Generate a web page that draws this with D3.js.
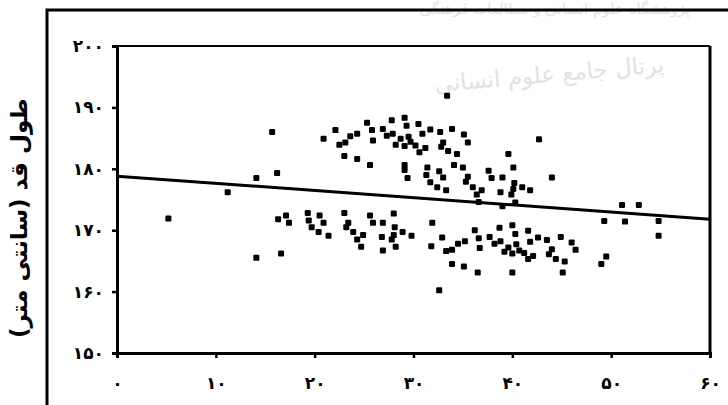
<!DOCTYPE html>
<html>
<head>
<meta charset="utf-8">
<script src="https://cdn.jsdelivr.net/npm/d3@7"></script>
<style>
    body { margin: 0; background: #fff; }
    svg { display: block; }
    .tick-label { font-family: "DejaVu Sans", sans-serif; font-weight: bold; font-size: 17px; fill: #000; }
</style>
</head>
<body>
<div id="chart"></div>
<script>
// age (years) of each point
var ages = [15.7, 14.1, 16.2, 20.9, 22.1, 22.5, 23.1, 23.6, 24.3, 25.3, 25.8, 25.9, 26.9, 27.3, 27.8, 27.9,
    28.2, 28.7, 29.1, 29.3, 29.1, 29.5, 29.7, 30.2, 30.5, 30.6, 23.0, 24.3, 25.6, 29.1, 29.1, 29.4,
    16.3, 17.1, 17.4, 19.3, 19.4, 19.7, 20.5, 20.9, 20.4, 21.4, 23.0, 23.4, 23.2, 23.9, 24.9, 24.3,
    24.7, 25.6, 25.9, 26.9, 28.0, 28.1, 26.8, 28.0, 27.8, 28.9, 29.8, 28.2, 26.9, 14.1, 16.6,
    33.4, 30.9, 31.7, 32.7, 33.9, 35.1, 35.5, 31.2, 33.0, 32.8, 33.5, 34.4, 34.1, 35.0, 31.4, 31.3,
    32.6, 33.0, 31.7, 32.4, 33.3, 35.5, 35.3, 36.0, 36.9, 36.4, 37.6, 37.9, 39.0, 39.6, 40.1, 40.2,
    41.0, 41.8, 40.1, 38.8, 39.9, 40.3, 39.0, 36.6, 42.7, 44.0,
    31.9, 32.9, 31.8, 33.3, 33.9, 34.5, 35.2, 36.2, 36.6, 36.7, 37.7, 38.2, 38.7, 38.8, 39.2, 39.6,
    40.0, 40.3, 40.4, 40.0, 40.7, 41.2, 41.6, 41.8, 41.6, 42.1, 42.6, 43.5, 44.0, 43.7, 44.4, 44.9,
    45.3, 46.0, 46.4, 45.1, 33.9, 35.1, 36.5, 40.0, 32.6,
    5.2, 11.2, 51.1, 52.8, 49.3, 51.4, 54.8, 54.8, 49.5, 49.0];
// height (cm) of each point
var heights = [186.0, 178.5, 179.3, 184.9, 186.3, 183.9, 184.3, 185.3, 185.7, 187.5, 186.3, 184.6, 186.5, 185.4, 187.9, 185.7,
    183.9, 184.9, 188.3, 187.0, 183.7, 185.2, 184.4, 183.8, 187.3, 182.7, 182.1, 181.6, 180.6, 180.6, 179.8, 178.5,
    171.8, 172.4, 171.2, 172.8, 171.6, 170.5, 172.4, 171.2, 169.7, 169.1, 172.8, 171.2, 170.5, 169.7, 169.2, 168.5,
    167.3, 172.4, 171.2, 171.2, 172.7, 170.5, 168.9, 169.2, 168.5, 169.7, 169.1, 167.3, 166.7, 165.5, 166.2,
    191.9, 185.7, 186.4, 186.0, 186.5, 185.6, 184.3, 183.4, 184.3, 183.6, 182.9, 182.4, 180.6, 180.2, 180.2, 179.0,
    179.6, 178.6, 177.8, 177.0, 176.5, 178.7, 177.9, 177.0, 176.5, 175.8, 179.7, 178.5, 178.6, 182.4, 180.2, 177.7,
    177.0, 176.5, 176.7, 176.2, 175.8, 174.5, 173.9, 174.6, 184.8, 178.6,
    171.2, 168.8, 167.4, 166.6, 166.8, 167.8, 168.2, 170.0, 168.7, 167.1, 168.9, 167.8, 170.4, 168.2, 166.5, 167.2,
    170.8, 169.4, 167.7, 166.2, 166.7, 166.3, 169.9, 168.1, 165.3, 165.8, 168.8, 168.4, 166.9, 166.1, 165.3, 168.9,
    164.9, 168.0, 166.8, 163.1, 164.5, 164.1, 163.1, 163.1, 160.2,
    171.9, 176.2, 174.1, 174.1, 171.5, 171.4, 171.5, 169.1, 165.7, 164.5];
// fitted trend line end points
var trendAges = [0, 60];
var trendHeights = [178.8, 171.8];
var xTicks = [0, 10, 20, 30, 40, 50, 60];
var yTicks = [150, 160, 170, 180, 190, 200];
var yTitle = 'طول قد (سانتی متر)';

function toPersian(n) {
    return String(n).replace(/[0-9]/g, function (d) { return '۰۱۲۳۴۵۶۷۸۹'[+d]; });
}

function renderChart() {
    let width = 728, height = 405,
        box = { left: 117, right: 710, top: 46, bottom: 353 };

    var svg = d3.select('#chart').append('svg')
        .attr('width', width).attr('height', height);

    var x = d3.scaleLinear().domain([0, 60]).range([box.left, box.right]);
    var y = d3.scaleLinear().domain([150, 200]).range([box.bottom, box.top]);

    // faded watermark at top
    var wm = svg.append('g').attr('fill', '#e2e2e2').attr('font-family', 'DejaVu Sans, sans-serif');
    wm.append('text').attr('x', 555).attr('y', 14).attr('text-anchor', 'middle')
        .attr('font-size', 15).text('پژوهشگاه علوم انسانی و مطالعات فرهنگی');
    wm.append('text').attr('x', 550).attr('y', 82).attr('text-anchor', 'middle')
        .attr('font-size', 23).attr('transform', 'rotate(-5,550,82)').text('پرتال جامع علوم انسانی');

    // outer frame (left and top)
    svg.append('path')
        .attr('d', 'M47,405V10H728')
        .attr('fill', 'none').attr('stroke', '#000').attr('stroke-width', 3);

    // plot box
    svg.append('line').attr('x1', box.left).attr('x2', box.right).attr('y1', box.top).attr('y2', box.top)
        .attr('stroke', '#000').attr('stroke-width', 2);
    svg.append('line').attr('x1', box.right).attr('x2', box.right).attr('y1', box.top).attr('y2', box.bottom)
        .attr('stroke', '#000').attr('stroke-width', 3);

    var xAxis = svg.append('g')
        .attr('transform', 'translate(0,' + box.bottom + ')')
        .call(d3.axisBottom(x).tickValues(xTicks).tickSize(5).tickPadding(19).tickFormat(toPersian));
    var yAxis = svg.append('g')
        .attr('transform', 'translate(' + box.left + ',0)')
        .call(d3.axisLeft(y).tickValues(yTicks).tickSize(5).tickPadding(8).tickFormat(toPersian));

    [xAxis, yAxis].forEach(function (a) {
        a.select('.domain').attr('stroke', '#000').attr('stroke-width', 3);
        a.selectAll('.tick line').attr('stroke', '#000').attr('stroke-width', 2.5);
        a.selectAll('.tick text').attr('class', 'tick-label').attr('font-family', null).attr('font-size', null);
    });

    // trend line
    svg.append('line')
        .attr('x1', x(trendAges[0])).attr('y1', y(trendHeights[0]))
        .attr('x2', x(trendAges[1])).attr('y2', y(trendHeights[1]))
        .attr('stroke', '#000').attr('stroke-width', 3);

    // points
    svg.append('g').selectAll('rect').data(ages).enter().append('rect')
        .attr('x', function (d) { return x(d) - 3; })
        .attr('y', function (d, i) { return y(heights[i]) - 3; })
        .attr('width', 6).attr('height', 6)
        .attr('rx', 1.2)
        .attr('fill', '#000');

    // y title
    svg.append('text')
        .attr('transform', 'translate(27,218) rotate(-90)')
        .attr('text-anchor', 'middle')
        .attr('font-family', 'DejaVu Sans, sans-serif')
        .attr('font-weight', 'bold')
        .attr('font-size', 23)
        .text(yTitle);
}

renderChart();
</script>
</body>
</html>
